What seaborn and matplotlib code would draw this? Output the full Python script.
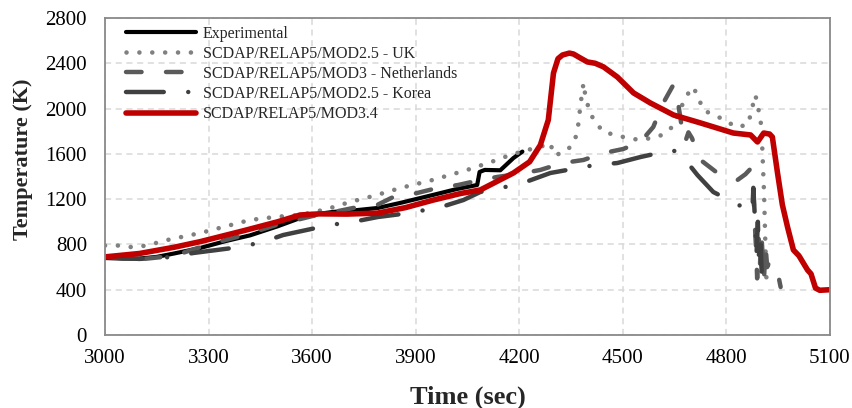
import numpy as np
import pandas as pd
import matplotlib
matplotlib.use("Agg")
import matplotlib.pyplot as plt
import seaborn as sns

# ---------------- data ----------------
series_names = ["Experimental",
                "SCDAP/RELAP5/MOD2.5 - UK",
                "SCDAP/RELAP5/MOD3 - Netherlands",
                "SCDAP/RELAP5/MOD2.5 - Korea",
                "SCDAP/RELAP5/MOD3.4"]

exp_t = [3000, 3050, 3100, 3150, 3200, 3275, 3350, 3420, 3500, 3565, 3620, 3660,
         3720, 3790, 3860, 3950, 4020, 4078, 4085, 4100, 4145, 4183, 4209]
exp_T = [680, 675, 675, 690, 720, 768, 830, 880, 960, 1033, 1070, 1087,
         1100, 1122, 1170, 1237, 1290, 1325, 1440, 1458, 1455, 1563, 1620]

uk_t = [3000, 3040, 3080, 3120, 3180, 3275, 3350, 3420, 3500, 3565, 3640, 3710,
        3780, 3855, 3950, 4049, 4120, 4174, 4223, 4260, 4290, 4300, 4328, 4354,
        4368, 4378, 4386, 4392, 4400, 4415, 4444, 4478, 4513, 4551, 4590, 4614,
        4643, 4672, 4690, 4704, 4719, 4733, 4762, 4797, 4826, 4861, 4870, 4878,
        4884, 4893, 4899, 4903, 4906, 4909, 4913, 4916]
uk_T = [790, 790, 775, 790, 839, 900, 960, 1016, 1045, 1060, 1110, 1175,
        1230, 1298, 1370, 1458, 1530, 1590, 1634, 1660, 1696, 1590, 1608, 1678,
        1784, 2050, 2226, 2100, 2014, 1900, 1793, 1767, 1740, 1722, 1745, 1767,
        1837, 2032, 2138, 2191, 2094, 1988, 1943, 1899, 1837, 1855, 1943, 2050,
        2120, 1988, 1899, 1722, 1484, 1254, 777, 480]

nl_t = [3000, 3100, 3200, 3300, 3400, 3500, 3600, 3660, 3719, 3788, 3835, 3904,
        3962, 4023, 4087, 4136, 4203, 4261, 4325, 4386, 4444, 4501, 4551, 4588,
        4617, 4646, 4660, 4670, 4680, 4690, 4700, 4725, 4774, 4810, 4832, 4855,
        4872, 4878, 4882, 4886, 4889, 4893, 4897, 4901, 4905, 4909, 4913, 4918,
        4925, 4940, 4950, 4957]
nl_T = [690, 668, 700, 800, 880, 975, 1050, 1085, 1122, 1148, 1219, 1254,
        1298, 1325, 1369, 1396, 1425, 1458, 1519, 1546, 1607, 1643, 1705, 1837,
        2049, 2208, 2050, 1850, 1700, 1790, 1740, 1546, 1431, 1390, 1369, 1420,
        1475, 1250, 1000, 750, 500, 850, 600, 900, 700, 500, 800, 600,
        650, 600, 530, 424]

kr_t = [3000, 3050, 3100, 3194, 3255, 3391, 3458, 3516, 3652, 3716, 3790, 3880,
        3974, 4038, 4087, 4159, 4226, 4290, 4420, 4484, 4551, 4643, 4667, 4716,
        4762, 4875, 4878, 4883, 4887, 4891, 4895, 4899, 4903]
kr_T = [690, 680, 672, 689, 724, 777, 822, 883, 972, 998, 1042, 1077,
        1131, 1192, 1263, 1307, 1360, 1431, 1502, 1519, 1572, 1634, 1600, 1413,
        1263, 1087, 1300, 1000, 700, 1000, 600, 800, 480]

m34_t = [3000, 3100, 3200, 3275, 3400, 3500, 3565, 3620, 3700, 3788, 3870, 3951,
         4030, 4087, 4183, 4230, 4261, 4284, 4299, 4312, 4325, 4345, 4357, 4375,
         4397, 4420, 4444, 4484, 4531, 4580, 4647, 4725, 4820, 4870, 4890, 4908,
         4925, 4933, 4948, 4962, 4977, 4994, 5010, 5035, 5045, 5058, 5070, 5100]
m34_T = [690, 720, 775, 824, 920, 1000, 1060, 1070, 1068, 1076, 1125, 1192,
         1250, 1281, 1431, 1530, 1678, 1899, 2313, 2440, 2473, 2490, 2482, 2450,
         2412, 2400, 2368, 2279, 2138, 2049, 1943, 1873, 1784, 1767, 1705, 1784,
         1775, 1749, 1431, 1150, 954, 751, 700, 574, 540, 415, 395, 400]

x_ticks = [3000, 3300, 3600, 3900, 4200, 4500, 4800, 5100]
y_ticks = [0, 400, 800, 1200, 1600, 2000, 2400, 2800]

# ---------------- build long table ----------------
frames = []
for name, t, T in zip(series_names,
                      [exp_t, uk_t, nl_t, kr_t, m34_t],
                      [exp_T, uk_T, nl_T, kr_T, m34_T]):
    frames.append(pd.DataFrame({"Time": t, "Temp": T, "series": name}))
df = pd.concat(frames, ignore_index=True)

palette = {series_names[0]: "#000000",
           series_names[1]: "#808080",
           series_names[2]: "#5a5a5a",
           series_names[3]: "#404040",
           series_names[4]: "#c00000"}
sizes = {series_names[0]: 3.0,
         series_names[1]: 3.3,
         series_names[2]: 3.2,
         series_names[3]: 3.2,
         series_names[4]: 4.0}
dashes = {series_names[0]: "",
          series_names[1]: (0.01, 2.8),
          series_names[2]: (3.5, 5.5),
          series_names[3]: (8.5, 5.5, 0.01, 5.5),
          series_names[4]: ""}

# ---------------- figure ----------------
sns.set_style("white")
plt.rcParams["font.family"] = ["Liberation Serif", "DejaVu Serif"]

fig = plt.figure(figsize=(8.52, 4.08), dpi=100)
ax = fig.add_axes([105 / 852, 1 - 335 / 408, 725 / 852, 317 / 408])

sns.lineplot(data=df, x="Time", y="Temp", hue="series", style="series",
             size="series", hue_order=series_names, style_order=series_names,
             size_order=series_names, palette=palette, sizes=sizes,
             dashes=dashes, estimator=None, sort=False, legend=False, ax=ax,
             dash_capstyle="round", solid_capstyle="round",
             solid_joinstyle="round", dash_joinstyle="round")

ax.set_xlim(3000, 5100)
ax.set_ylim(0, 2800)
ax.set_xticks(x_ticks)
ax.set_yticks(y_ticks)
ax.set_xticklabels([str(v) for v in x_ticks])
ax.set_yticklabels([str(v) for v in y_ticks])

ax.grid(True, color="#d9d9d9", linestyle=(0, (4, 3)), linewidth=1.1)
ax.set_axisbelow(True)
for s in ax.spines.values():
    s.set_color("#898989")
    s.set_linewidth(1.3)
ax.tick_params(axis="both", direction="out", length=5, width=1.2,
               color="#898989", labelsize=15, labelcolor="black")
ax.tick_params(axis="y", pad=8)
ax.tick_params(axis="x", pad=5)

ax.set_xlabel("Time (sec)", fontsize=19, fontweight="bold")
ax.set_ylabel("Temperature (K)", fontsize=16, fontweight="bold")
ax.xaxis.set_label_coords(0.5, -0.158)
ax.yaxis.set_label_coords(-0.099, 0.555)

handles = ax.get_lines()[:5]
ax.legend(handles=handles, labels=series_names, loc="upper left",
          bbox_to_anchor=(0.029, 0.976), frameon=False, fontsize=11.5,
          handlelength=4.4, handletextpad=0.4, labelspacing=0.26,
          borderpad=0, borderaxespad=0)

fig.savefig("out.png", dpi=100)
